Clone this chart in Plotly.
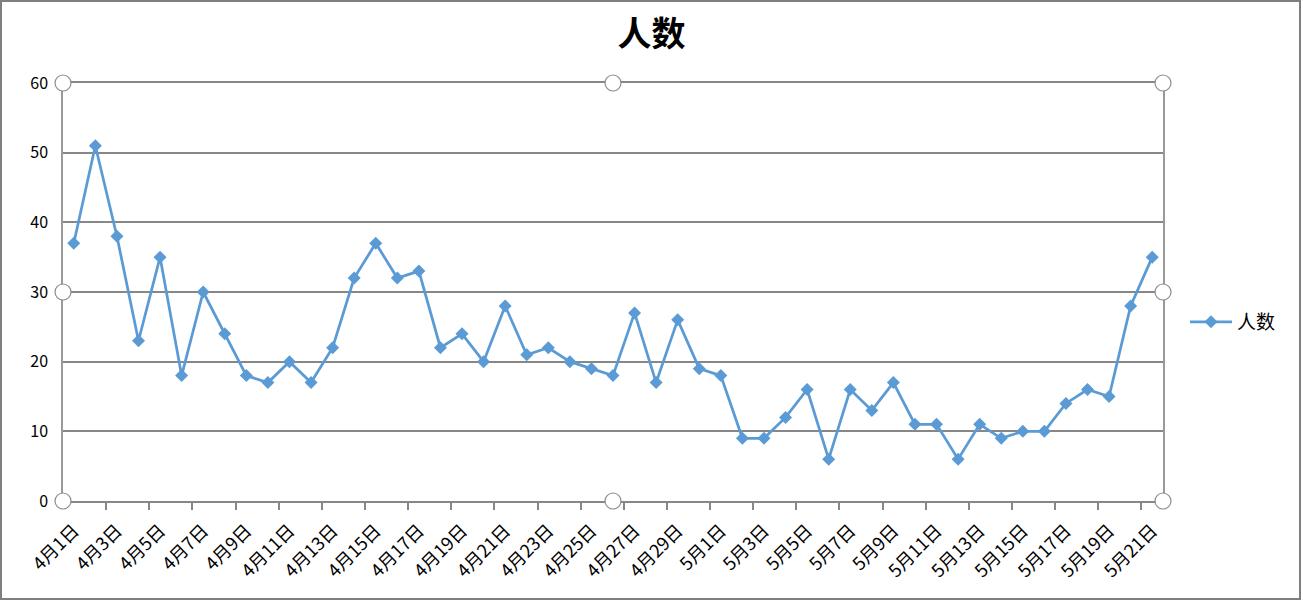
import plotly.graph_objects as go

dates = [f"4月{d}日" for d in range(1, 31)] + [f"5月{d}日" for d in range(1, 22)]
values = [37, 51, 38, 23, 35, 18, 30, 24, 18, 17, 20, 17, 22, 32, 37, 32, 33, 22, 24, 20,
          28, 21, 22, 20, 19, 18, 27, 17, 26, 19, 18, 9, 9, 12, 16, 6, 16, 13, 17, 11,
          11, 6, 11, 9, 10, 10, 14, 16, 15, 28, 35]
series_name = "人数"
title_text = "人数"

idx = list(range(len(dates)))
label_idx = idx[::2]
label_text = [dates[i] for i in label_idx]
boundary_ticks = [i + 1.5 for i in range(0, len(dates) - 2, 2)]

BLUE = "#5B9BD5"
GRID = "#878787"
FONT = "Noto Sans CJK SC, Microsoft YaHei, sans-serif"

fig = go.Figure()
fig.add_trace(go.Scatter(
    x=idx, y=values, mode="lines+markers", name=series_name,
    line=dict(color=BLUE, width=2.75),
    marker=dict(symbol="diamond", size=10, color=BLUE),
    cliponaxis=False,
))

L, R, T, B = 63, 140, 83, 101
W, H = 1303, 602
PW, PH = W - L - R, H - T - B

fig.update_layout(
    width=W, height=H,
    margin=dict(l=L, r=R, t=T, b=B),
    paper_bgcolor="white", plot_bgcolor="white",
    title=dict(text=f"<b>{title_text}</b>", x=0.5, xanchor="center", y=1 - 34 / H, yanchor="middle",
               font=dict(family=FONT, size=34, color="black")),
    font=dict(family=FONT, color="black"),
    showlegend=True,
    legend=dict(x=(1185 - L) / PW, y=(501 - 322) / PH, xanchor="left", yanchor="middle",
                font=dict(family=FONT, size=19, color="black"), bgcolor="rgba(0,0,0,0)",
                itemwidth=42),
    xaxis=dict(
        range=[-0.5, len(dates) - 0.5],
        tickmode="array", tickvals=label_idx, ticktext=label_text,
        tickangle=-45, ticks="", showgrid=False, zeroline=False,
        tickfont=dict(family=FONT, size=18, color="black"),
        ticklabelstandoff=10,
        showline=True, linecolor=GRID, linewidth=2, mirror=True,
        minor=dict(tickmode="array", tickvals=boundary_ticks, ticks="outside",
                   ticklen=7, tickwidth=2, tickcolor=GRID, showgrid=False),
    ),
    yaxis=dict(
        range=[0, 60], dtick=10, tick0=0,
        showgrid=True, gridcolor=GRID, gridwidth=2,
        zeroline=False, ticks="", ticklabelstandoff=10,
        tickfont=dict(family=FONT, size=16, color="black"),
        showline=True, linecolor="#999999", linewidth=1.5, mirror=True,
    ),
)

def px_x(px):
    return (px - L) / PW

def px_y(py):
    return (H - B - py) / PH

shapes = []
# outer chart border
shapes.append(dict(type="rect", xref="paper", yref="paper", layer="above",
                   x0=px_x(1), x1=px_x(1300), y0=px_y(599), y1=px_y(1),
                   line=dict(color="#7f7f7f", width=2)))
# selection handles around plot area
for hx in (L, L + PW / 2, L + PW):
    for hy in (T, T + PH / 2, T + PH):
        if hx == L + PW / 2 and hy == T + PH / 2:
            continue
        shapes.append(dict(type="circle", xref="paper", yref="paper", layer="above",
                           x0=px_x(hx - 8), x1=px_x(hx + 8),
                           y0=px_y(hy + 8), y1=px_y(hy - 8),
                           fillcolor="white", line=dict(color="#8c8c8c", width=1.2)))
fig.update_layout(shapes=shapes)

fig.write_html("out.html", config={"displayModeBar": False},
               post_script="document.body.style.margin='0px';document.body.style.overflow='hidden';")
